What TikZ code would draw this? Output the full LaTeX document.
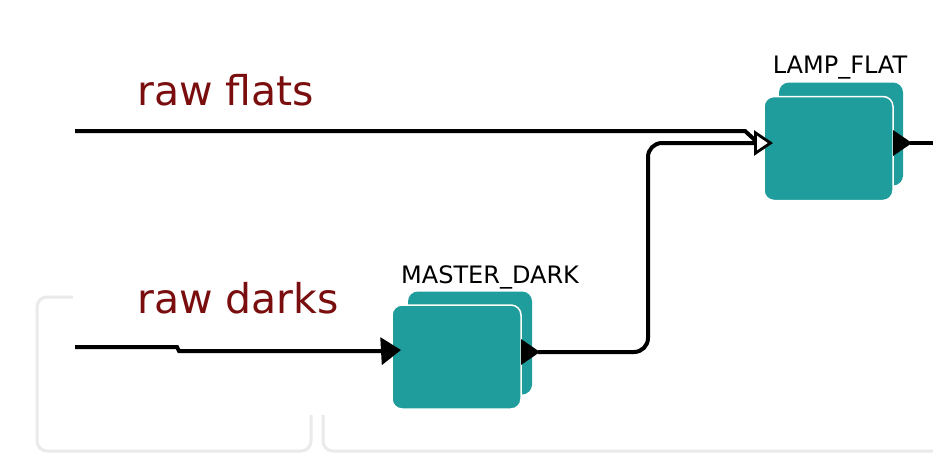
\documentclass[tikz,border=0pt]{standalone}
\usepackage{fontspec}
\setmainfont{DejaVu Sans}
\usetikzlibrary{arrows.meta}
\definecolor{boxteal}{HTML}{1F9C9C}
\definecolor{labelred}{HTML}{7A0E0E}
\definecolor{ghost}{HTML}{EAEAEA}
\tikzset{
  procbox/.style={fill=boxteal, draw=white, line width=1.5pt, rounded corners=10pt,
    minimum width=129pt, minimum height=104pt, inner sep=0pt},
  backbox/.style={fill=boxteal, draw=none, rounded corners=10pt,
    minimum width=124pt, minimum height=103pt, inner sep=0pt},
  wire/.style={line width=4pt, draw=black},
  intip/.style={-{Triangle[length=20pt,width=27pt]}},
  opentip/.style={-{Triangle[open,length=19pt,width=25pt,fill=white,line width=2.8pt]}},
  streamlabel/.style={text=labelred, font=\fontsize{41}{41}\selectfont, anchor=base west, inner sep=0pt},
  boxlabel/.style={text=black, font=\fontsize{24}{24}\selectfont, anchor=base, inner sep=0pt},
  ghostbox/.style={draw=ghost, line width=3pt, rounded corners=10pt}
}
\begin{document}
\begin{tikzpicture}[x=1pt,y=-1pt]
\useasboundingbox (0,0) rectangle (933,455);
\fill[white] (0,0) rectangle (933,455);
% faded background panels
\draw[ghostbox] (37,297) rectangle (311,451);
\draw[ghostbox] (323,297) rectangle (945,451);
\fill[white] (73,-5) rectangle (940,415);
% stream labels
\node[streamlabel] (rawflats) at (137,105) {raw flats};
\node[streamlabel] (rawdarks) at (137,313) {raw darks};
% MASTER_DARK
\node[backbox] (mdback) at (470,343) {};
\node[procbox] (md) at (456.5,357) {};
\node[boxlabel] (mdlabel) at (490,283) {MASTER\_DARK};
% LAMP_FLAT
\node[backbox] (lfback) at (841,134) {};
\node[procbox] (lf) at (828.5,148.5) {};
\node[boxlabel] (lflabel) at (840,73) {LAMP\_FLAT};
% ports
\coordinate (darkstart) at (75,347);
\coordinate (flatstart) at (75,131);
\coordinate (mdin) at (401,350);
\coordinate (mdout) at (521,352);
\coordinate (lfin) at (773,143);
\coordinate (lfout) at (893,143);
\coordinate (lfend) at (940,143);
% raw flats wire
\draw[wire] (flatstart) -- (745,131) -- (757,142);
% raw darks wire
\draw[wire, intip] (darkstart) -- (177,347) -- (179,351) -- (383,351) -- (mdin);
% MASTER_DARK output
\fill ([yshift=-13pt]mdout) -- ([xshift=19pt]mdout) -- ([yshift=13pt]mdout) -- cycle;
\draw[wire, rounded corners=14pt, opentip] ([xshift=17pt]mdout) -- (648,352) -- (648,143) -- (lfin);
% LAMP_FLAT output
\fill ([yshift=-13pt]lfout) -- ([xshift=19pt]lfout) -- ([yshift=13pt]lfout) -- cycle;
\draw[wire] ([xshift=17pt]lfout) -- (lfend);
\end{tikzpicture}
\end{document}
